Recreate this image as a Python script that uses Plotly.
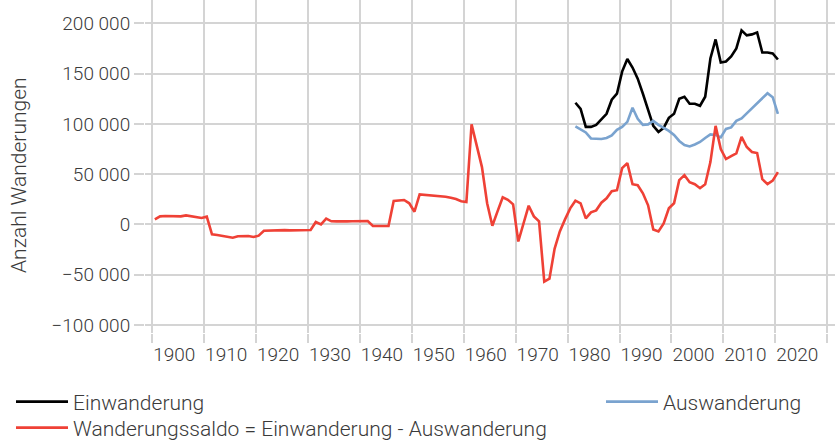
import numpy as np
import plotly.graph_objects as go

# ---- data ----
saldo_years = list(range(1900, 2021))
saldo = [
    5000, 8000, 8300, 8300, 8300, 8000, 9000, 8000, 7500, 6400,          # 1900-1909
    7700, -9800, -10500, -11200, -12300, -13200, -11800, -11500, -11500, -12500,  # 1910-1919
    -11200, -6300, -6000, -6000, -5900, -5700, -5900, -6000, -6000, -6200,  # 1920-1929
    -5600, 2400, 0, 5700, 3100, 3000, 2700, 3000, 3200, 3400,            # 1930-1939
    3400, 3400, -1600, -1600, -1600, -1600, 23300, 23500, 24300, 21000,  # 1940-1949
    12600, 29900, 29500, 29200, 28500, 28000, 27500, 26500, 25300, 23000,  # 1950-1959
    22300, 99500, 77000, 57000, 21000, -1300, 13000, 27000, 24500, 20000,  # 1960-1969
    -17000, 1000, 18600, 8000, 3000, -57000, -54000, -24000, -7000, 5000,  # 1970-1979
    16000, 23600, 21000, 6000, 12000, 14000, 21600, 26000, 33000, 34000,  # 1980-1989
    56000, 61000, 40000, 39000, 31000, 19000, -5000, -7000, 1000, 16000,  # 1990-1999
    21000, 44000, 49000, 42000, 40000, 36000, 40000, 62000, 98000, 75000,  # 2000-2009
    65000, 68000, 70700, 87000, 77000, 72000, 71000, 45000, 40000, 43500,  # 2010-2019
    52000,                                                                # 2020
]

flow_years = list(range(1981, 2021))
einwanderung = [
    121000, 115000, 97000, 97000, 99000, 105000, 110000, 124000, 130000,          # 1981-1989
    152000, 164500, 156000, 145000, 130000, 113000, 98000, 92000, 96000, 106000,  # 1990-1999
    110000, 125000, 127000, 120000, 120000, 118000, 127000, 165000, 184000, 161000,  # 2000-2009
    162000, 167000, 175000, 193000, 188000, 189000, 191000, 171000, 171000, 170000,  # 2010-2019
    164000,                                                                       # 2020
]
auswanderung = [
    97500, 94500, 91500, 85500, 85000, 85000, 86000, 88500, 94000,                # 1981-1989
    97000, 102000, 116000, 105000, 99000, 99500, 103000, 99000, 96000, 93000,     # 1990-1999
    89000, 83000, 79000, 77500, 79500, 82000, 86000, 89500, 89000, 86500,         # 2000-2009
    95000, 96500, 103000, 105500, 110500, 115500, 119500, 124500, 130500, 126500,  # 2010-2019
    110000,                                                                       # 2020
]

x_tick_values = list(range(1900, 2031, 10))
x_tick_labels = [str(v) for v in x_tick_values]
y_tick_values = [-100000, -50000, 0, 50000, 100000, 150000, 200000]
y_title = "Anzahl Wanderungen"

# annual values are drawn at mid-year
saldo_x = np.array(saldo_years) + 0.5
flow_x = np.array(flow_years) + 0.5

FONT = "Roboto"
GRID = "#d4d4d4"
TEXT = "#3a3a3a"
W, H = 835, 441
M_L, M_R, M_T, M_B = 145, 0, 0, 108
PLOT_W, PLOT_H = W - M_L - M_R, H - M_T - M_B

fig = go.Figure()
fig.add_trace(go.Scatter(x=flow_x, y=einwanderung, mode="lines", name="Einwanderung",
                         line=dict(color="#000000", width=2.6), legend="legend"))
fig.add_trace(go.Scatter(x=flow_x, y=auswanderung, mode="lines", name="Auswanderung",
                         line=dict(color="#7aa3cf", width=2.6), legend="legend2"))
fig.add_trace(go.Scatter(x=saldo_x, y=saldo, mode="lines",
                         name="Wanderungssaldo = Einwanderung - Auswanderung",
                         line=dict(color="#ef4136", width=2.6), legend="legend3"))

legend_font = dict(family=FONT, size=21, color=TEXT, weight=300)


def legend_at(px_x, px_y):
    return dict(
        xref="container", yref="container", x=px_x / W, y=1 - px_y / H,
        xanchor="left", yanchor="middle", orientation="v", itemwidth=52,
        font=legend_font, bgcolor="rgba(0,0,0,0)",
    )


fig.update_layout(
    width=W, height=H,
    margin=dict(l=M_L, r=M_R, t=M_T, b=M_B, autoexpand=False),
    paper_bgcolor="white", plot_bgcolor="white",
    separators=", ",
    font=dict(family=FONT, size=19, color=TEXT, weight=300),
    showlegend=True,
    legend=legend_at(11, 402),
    legend2=legend_at(601, 402),
    legend3=legend_at(11, 428),
    annotations=[dict(
        text=y_title, textangle=-90, showarrow=False,
        xref="paper", yref="paper",
        x=(19 - M_L) / PLOT_W, y=1 - (175 - M_T) / PLOT_H,
        xanchor="center", yanchor="middle",
        font=dict(family=FONT, size=21, color=TEXT, weight=300),
    )],
)

tick_font = dict(family=FONT, size=19, color=TEXT, weight=300)

fig.update_xaxes(
    range=[1898.6, 2031.5], automargin=False,
    tickmode="array", tickvals=x_tick_values, ticktext=x_tick_labels,
    showgrid=True, gridcolor=GRID, gridwidth=1.5,
    ticks="outside", ticklen=9, tickcolor=GRID, tickwidth=1.5,
    ticklabelshift=22, ticklabelstandoff=-5, tickangle=0,
    tickfont=tick_font,
    showline=False, zeroline=False,
)
fig.update_yaxes(
    range=[-108000, 223200], automargin=False,
    tickmode="array", tickvals=y_tick_values,
    tickformat=",d",
    showgrid=True, gridcolor=GRID, gridwidth=1.5,
    ticks="outside", ticklen=10, tickcolor=GRID, tickwidth=1.5,
    tickfont=tick_font,
    showline=False, zeroline=False,
)

fig.write_html("out.html", config={"displayModeBar": False},
               post_script="document.body.style.margin='0';")
